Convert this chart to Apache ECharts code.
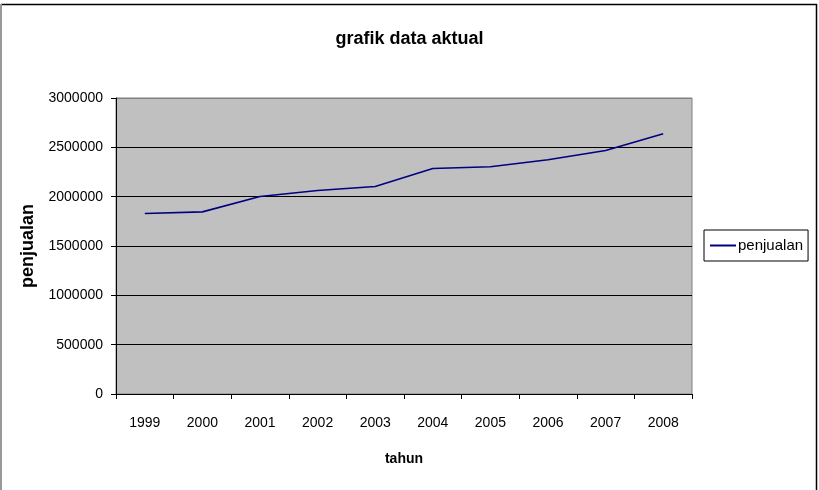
<!DOCTYPE html>
<html>
<head>
<meta charset="utf-8">
<script src="https://cdn.jsdelivr.net/npm/echarts@6/dist/echarts.min.js"></script>
<style>
html,body{margin:0;padding:0;background:#fff;}
#c{width:819px;height:490px;}
</style>
</head>
<body>
<div id="c"></div>
<script>
var years = ['1999','2000','2001','2002','2003','2004','2005','2006','2007','2008'];
var penjualan = [1829000, 1846000, 2001000, 2062000, 2103000, 2286000, 2303000, 2374000, 2468000, 2638000];
var seriesName = 'penjualan';
var titleText = 'grafik data aktual';
var xName = 'tahun';
var yName = 'penjualan';

var FONT = '"Liberation Sans", Arial, sans-serif';
var chart = echarts.init(document.getElementById('c'), null, {renderer: 'canvas'});
chart.setOption({
  animation: false,
  backgroundColor: '#ffffff',
  title: {
    text: titleText,
    left: 'center',
    top: 25,
    textStyle: {fontFamily: FONT, fontWeight: 'bold', fontSize: 18, color: '#000'}
  },
  legend: {
    data: [seriesName],
    left: 704,
    top: 230,
    orient: 'vertical',
    borderColor: '#000',
    borderWidth: 1,
    borderRadius: 0,
    padding: [8, 5, 8, 6],
    itemWidth: 26,
    itemHeight: 2,
    itemGap: 0,
    icon: 'rect',
    textStyle: {fontFamily: FONT, fontSize: 15, color: '#000', padding: [0, 0, 0, -3]}
  },
  grid: {left: 116, right: 127, top: 98, bottom: 96, show: true, backgroundColor: '#c0c0c0', borderColor: '#808080', borderWidth: 1},
  xAxis: {
    type: 'category',
    data: years,
    boundaryGap: true,
    name: xName,
    nameLocation: 'middle',
    nameGap: 58,
    nameTextStyle: {fontFamily: FONT, fontWeight: 'bold', fontSize: 14, color: '#000'},
    axisLine: {lineStyle: {color: '#000', width: 1}},
    axisTick: {show: true, inside: false, length: 5, lineStyle: {color: '#000'}},
    axisLabel: {fontFamily: FONT, fontSize: 14, color: '#000', margin: 22},
    splitLine: {show: false}
  },
  yAxis: {
    type: 'value',
    min: 0,
    max: 3000000,
    interval: 500000,
    name: yName,
    nameLocation: 'middle',
    nameGap: 79,
    nameMoveOverlap: false,
    nameRotate: 90,
    nameTextStyle: {fontFamily: FONT, fontWeight: 'bold', fontSize: 18, color: '#000'},
    axisLine: {show: true, lineStyle: {color: '#000', width: 1}},
    axisTick: {show: true, length: 5, lineStyle: {color: '#000'}},
    axisLabel: {fontFamily: FONT, fontSize: 14, color: '#000', margin: 13, formatter: function (v) { return String(v); }},
    splitLine: {show: true, lineStyle: {color: ['#000', '#000', '#000', '#000', '#000', '#000', '#808080'], width: 1}}
  },
  graphic: [
    {type: 'line', shape: {x1: 1, y1: 4.5, x2: 817, y2: 4.5}, style: {stroke: '#000', lineWidth: 1.5}},
    {type: 'line', shape: {x1: 1, y1: 4, x2: 1, y2: 490}, style: {stroke: '#999', lineWidth: 2}},
    {type: 'line', shape: {x1: 816.5, y1: 4, x2: 816.5, y2: 490}, style: {stroke: '#000', lineWidth: 1.5}}
  ],
  series: [{
    name: seriesName,
    type: 'line',
    data: penjualan,
    symbol: 'none',
    lineStyle: {color: '#000080', width: 1.6},
    itemStyle: {color: '#000080'}
  }]
});
</script>
</body>
</html>
